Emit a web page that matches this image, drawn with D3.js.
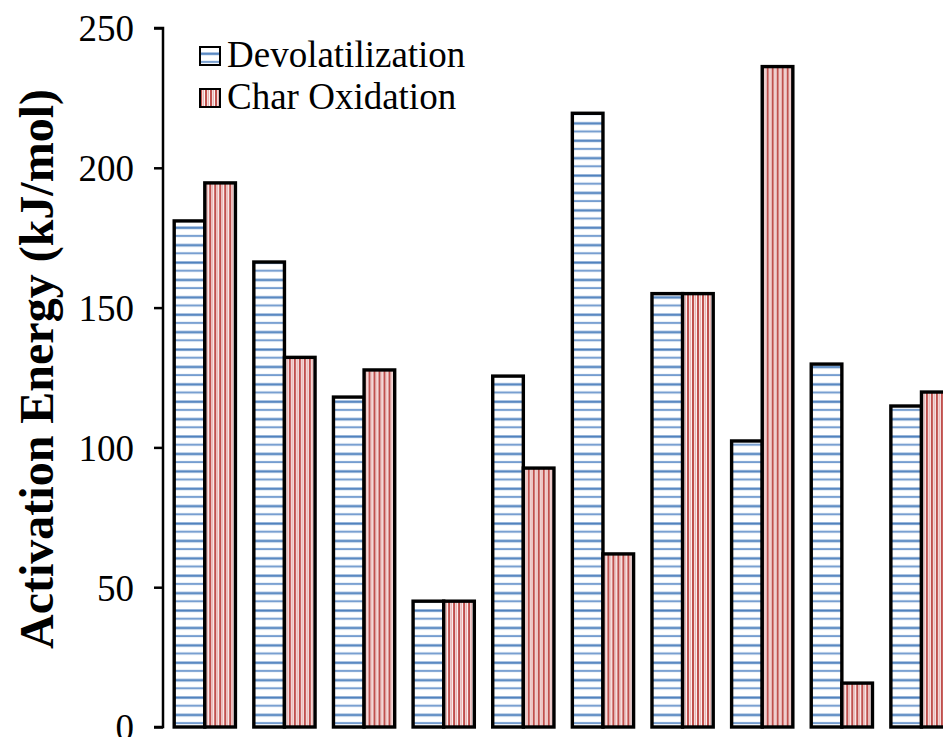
<!DOCTYPE html>
<html>
<head>
<meta charset="utf-8">
<script src="https://cdn.jsdelivr.net/npm/d3@7"></script>
<style>
  html, body { margin: 0; padding: 0; background: #fff; overflow: hidden; }
  svg { display: block; }
</style>
</head>
<body>
<script>
// ---- data ----
const categories = ["1", "2", "3", "4", "5", "6", "7", "8", "9", "10"];
const seriesNames = ["Devolatilization", "Char Oxidation"];
const devolatilization = [181, 166.3, 118, 45, 125.5, 219.5, 155, 102.3, 129.8, 114.8];
const charOxidation   = [194.6, 132.2, 127.7, 45, 92.6, 61.9, 155, 236.2, 15.7, 119.8];
const yTicks = [0, 50, 100, 150, 200, 250];
const yTitle = "Activation Energy (kJ/mol)";

const W = 943, H = 737;
const svg = d3.select("body").append("svg").attr("width", W).attr("height", H);

// patterns
const defs = svg.append("defs");
const pb = defs.append("pattern").attr("id", "pBlue")
  .attr("patternUnits", "userSpaceOnUse").attr("width", 8).attr("height", 17.4);
pb.append("rect").attr("width", 8).attr("height", 17.4).attr("fill", "#fff");
pb.append("rect").attr("y", 0).attr("width", 8).attr("height", 3.2).attr("fill", "#c9d9ee");
pb.append("rect").attr("y", 0.6).attr("width", 8).attr("height", 2).attr("fill", "#4f81bd");
pb.append("rect").attr("y", 8.5).attr("width", 8).attr("height", 2.4).attr("fill", "#c9d9ee");
pb.append("rect").attr("y", 9.0).attr("width", 8).attr("height", 1.4).attr("fill", "#5a8ac6");

const pr = defs.append("pattern").attr("id", "pRed")
  .attr("patternUnits", "userSpaceOnUse").attr("width", 5).attr("height", 8);
pr.append("rect").attr("width", 5).attr("height", 8).attr("fill", "#fff");
pr.append("rect").attr("x", 0).attr("width", 2.2).attr("height", 8).attr("fill", "#c0504d");
pr.append("rect").attr("x", 3.2).attr("width", 0.9).attr("height", 8).attr("fill", "#e3a3a2");

// scales
const y = d3.scaleLinear().domain([0, 250]).range([727, 28]);
const x0 = d3.scaleBand().domain(categories).range([165, 165 + 79.63 * categories.length])
  .paddingInner(0.231).paddingOuter(0.1155);
const x1 = d3.scaleBand().domain(seriesNames).range([0, x0.bandwidth()]).padding(0);

const fills = { "Devolatilization": "url(#pBlue)", "Char Oxidation": "url(#pRed)" };
const data = categories.map((c, i) => ({
  cat: c,
  vals: [
    { s: seriesNames[0], v: devolatilization[i] },
    { s: seriesNames[1], v: charOxidation[i] }
  ]
}));

// bars
const g = svg.append("g");
g.selectAll("g.grp").data(data).join("g")
  .attr("class", "grp")
  .attr("transform", d => `translate(${x0(d.cat)},0)`)
  .selectAll("rect").data(d => d.vals).join("rect")
  .attr("x", d => x1(d.s))
  .attr("y", d => y(d.v))
  .attr("width", x1.bandwidth())
  .attr("height", d => y(0) - y(d.v))
  .attr("fill", d => fills[d.s])
  .attr("stroke", "#000")
  .attr("stroke-width", 3.4);

// y axis
const yAxis = d3.axisLeft(y).tickValues(yTicks).tickSize(9).tickPadding(20).tickFormat(d3.format("d"));
const ag = svg.append("g").attr("transform", "translate(163,0)").call(yAxis);
ag.select(".domain").attr("stroke", "#000").attr("stroke-width", 2.5)
  .attr("d", `M-9,${y(250)}H0V${y(0)}H-9`);
ag.selectAll(".tick line").attr("stroke", "#000").attr("stroke-width", 2.5);
ag.selectAll(".tick text")
  .attr("font-family", "'Liberation Serif', 'Times New Roman', serif")
  .attr("font-size", 37).attr("fill", "#000").attr("dy", "0.35em");

// y title
svg.append("text")
  .attr("transform", `translate(53,${369}) rotate(-90)`)
  .attr("text-anchor", "middle")
  .attr("font-family", "'Liberation Serif', 'Times New Roman', serif")
  .attr("font-weight", "bold").attr("font-size", 48).attr("fill", "#000")
  .text(yTitle);

// legend
const leg = svg.append("g");
seriesNames.forEach((s, i) => {
  const yy = 47 + i * 42;
  leg.append("rect").attr("x", 200).attr("y", yy).attr("width", 20).attr("height", 18)
    .attr("fill", fills[s]).attr("stroke", "#000").attr("stroke-width", 2);
  leg.append("text").attr("x", 227).attr("y", yy + 20)
    .attr("font-family", "'Liberation Serif', 'Times New Roman', serif")
    .attr("font-size", 37).attr("fill", "#000").text(s);
});
</script>
</body>
</html>
